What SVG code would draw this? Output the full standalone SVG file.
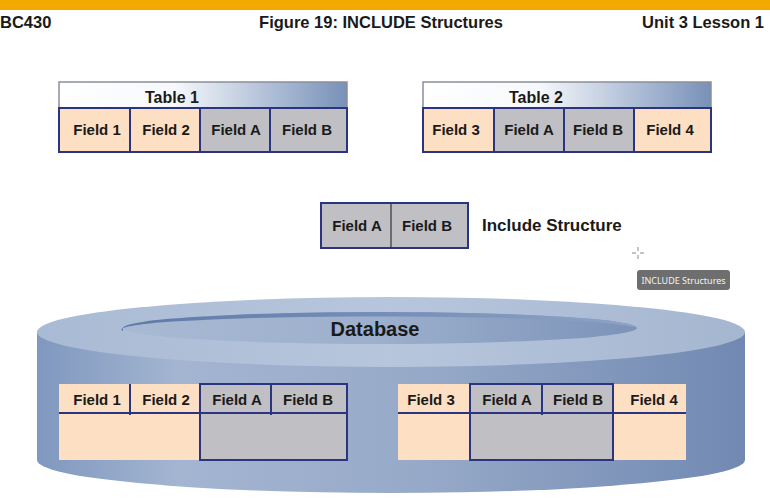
<svg xmlns="http://www.w3.org/2000/svg" width="770" height="504" viewBox="0 0 770 504">
<defs>
<linearGradient id="hdr" x1="0" y1="0" x2="1" y2="0">
<stop offset="0" stop-color="#ffffff"/><stop offset="0.4" stop-color="#f6f8fb"/><stop offset="0.7" stop-color="#b6c4da"/><stop offset="1" stop-color="#7891b9"/>
</linearGradient>
<linearGradient id="side" x1="0" y1="0" x2="1" y2="0">
<stop offset="0" stop-color="#8098bf"/><stop offset="0.2" stop-color="#a3b5d1"/><stop offset="0.55" stop-color="#96a9c8"/><stop offset="1" stop-color="#7189b2"/>
</linearGradient>
<linearGradient id="topf" x1="0" y1="0" x2="1" y2="0">
<stop offset="0" stop-color="#a9bad4"/><stop offset="0.5" stop-color="#b7c6dc"/><stop offset="1" stop-color="#a5b6d0"/>
</linearGradient>
<linearGradient id="hole" x1="0" y1="0" x2="1" y2="0">
<stop offset="0" stop-color="#a8b9d3"/><stop offset="0.5" stop-color="#9cafcc"/><stop offset="1" stop-color="#7c93b9"/>
</linearGradient>
<linearGradient id="rim" x1="0" y1="0" x2="1" y2="0">
<stop offset="0" stop-color="#5f7aa8"/><stop offset="0.6" stop-color="#7a92ba"/><stop offset="1" stop-color="#8ea3c5"/>
</linearGradient>
<style>
.t{font-family:"Liberation Sans",Arial,sans-serif;font-weight:bold;fill:#1a1a1a}
.f{font-size:15px;text-anchor:middle}
.peach{fill:#fddfc3}
.gray{fill:#c0bfc3}
.nb{fill:none;stroke:#2a3480;stroke-width:2}
.nl{stroke:#2a3480;stroke-width:2}
.hb{fill:url(#hdr);stroke:#8a8f99;stroke-width:1.5}
</style>
</defs>
<rect x="0" y="0" width="770" height="10" fill="#f2a900"/>
<g id="header">
<text class="t" x="0" y="28" font-size="16.5">BC430</text>
<text class="t" x="381" y="28" font-size="16.5" text-anchor="middle">Figure 19: INCLUDE Structures</text>
<text class="t" x="764" y="28" font-size="16.5" text-anchor="end">Unit 3 Lesson 1</text>
</g>
<g id="table1">
<rect class="hb" x="59" y="82" width="288" height="26"/>
<text class="t" x="172" y="103" font-size="16" text-anchor="middle">Table 1</text>
<rect class="peach" x="59" y="108" width="141" height="44"/>
<rect class="gray" x="200" y="108" width="147" height="44"/>
<rect class="nb" x="59" y="108" width="288" height="44"/>
<line class="nl" x1="130" y1="108" x2="130" y2="152"/>
<line class="nl" x1="200" y1="108" x2="200" y2="152"/>
<line class="nl" x1="270" y1="108" x2="270" y2="152"/>
<text class="t f" x="97" y="135">Field 1</text>
<text class="t f" x="166" y="135">Field 2</text>
<text class="t f" x="236" y="135">Field A</text>
<text class="t f" x="307" y="135">Field B</text>
</g>
<g id="table2">
<rect class="hb" x="423" y="82" width="288" height="26"/>
<text class="t" x="536" y="103" font-size="16" text-anchor="middle">Table 2</text>
<rect class="peach" x="423" y="108" width="288" height="44"/>
<rect class="gray" x="494" y="108" width="140" height="44"/>
<rect class="nb" x="423" y="108" width="288" height="44"/>
<line class="nl" x1="494" y1="108" x2="494" y2="152"/>
<line class="nl" x1="564" y1="108" x2="564" y2="152"/>
<line class="nl" x1="634" y1="108" x2="634" y2="152"/>
<text class="t f" x="456" y="135">Field 3</text>
<text class="t f" x="529" y="135">Field A</text>
<text class="t f" x="598" y="135">Field B</text>
<text class="t f" x="670" y="135">Field 4</text>
</g>
<g id="include">
<rect class="gray" x="321" y="203" width="147" height="45"/>
<rect class="nb" x="321" y="203" width="147" height="45"/>
<line x1="391" y1="203" x2="391" y2="248" stroke="#333" stroke-width="1.2"/>
<text class="t f" x="357" y="231">Field A</text>
<text class="t f" x="427" y="231">Field B</text>
<text class="t" x="482" y="231" font-size="17">Include Structure</text>
</g>
<g id="cursor" stroke="#888" stroke-width="1">
<line x1="638" y1="247" x2="638" y2="251"/><line x1="638" y1="255" x2="638" y2="259"/>
<line x1="632" y1="253" x2="636" y2="253"/><line x1="640" y1="253" x2="644" y2="253"/>
</g>
<g id="tooltip">
<rect x="637" y="270" width="93" height="20" rx="3" fill="#6e6e6e"/>
<text x="683.5" y="284" font-family="'Noto Sans','Liberation Sans',sans-serif" font-size="9" fill="#f2f2f2" text-anchor="middle">INCLUDE Structures</text>
</g>
<g id="database">
<path d="M37 332 L37 460 A354 33 0 0 0 745 460 L745 332 Z" fill="url(#side)"/>
<ellipse cx="391" cy="332" rx="354" ry="35" fill="url(#topf)"/>
<ellipse cx="380" cy="328" rx="257" ry="16" fill="url(#hole)"/>
<path d="M123 328 A257 16 0 0 1 637 328 A257 13 0 0 0 123 331 Z" fill="url(#rim)"/>
<text class="t" x="375" y="336" font-size="20" text-anchor="middle">Database</text>
</g>
<g id="dbtable1">
<rect class="peach" x="59" y="384" width="141" height="76"/>
<rect class="gray" x="200" y="384" width="147" height="76"/>
<line class="nl" x1="59" y1="413" x2="347" y2="413"/>
<line class="nl" x1="130" y1="384" x2="130" y2="415"/>
<line class="nl" x1="271" y1="384" x2="271" y2="415"/>
<rect class="nb" x="200" y="384" width="147" height="76"/>
<text class="t f" x="97" y="405">Field 1</text>
<text class="t f" x="166" y="405">Field 2</text>
<text class="t f" x="237" y="405">Field A</text>
<text class="t f" x="308" y="405">Field B</text>
</g>
<g id="dbtable2">
<rect class="peach" x="398" y="384" width="288" height="76"/>
<rect class="gray" x="470" y="384" width="143" height="76"/>
<line class="nl" x1="398" y1="413" x2="686" y2="413"/>
<line class="nl" x1="542" y1="384" x2="542" y2="415"/>
<rect class="nb" x="470" y="384" width="143" height="76"/>
<text class="t f" x="431" y="405">Field 3</text>
<text class="t f" x="507" y="405">Field A</text>
<text class="t f" x="578" y="405">Field B</text>
<text class="t f" x="654" y="405">Field 4</text>
</g>
<g id="connectors"></g>
</svg>
